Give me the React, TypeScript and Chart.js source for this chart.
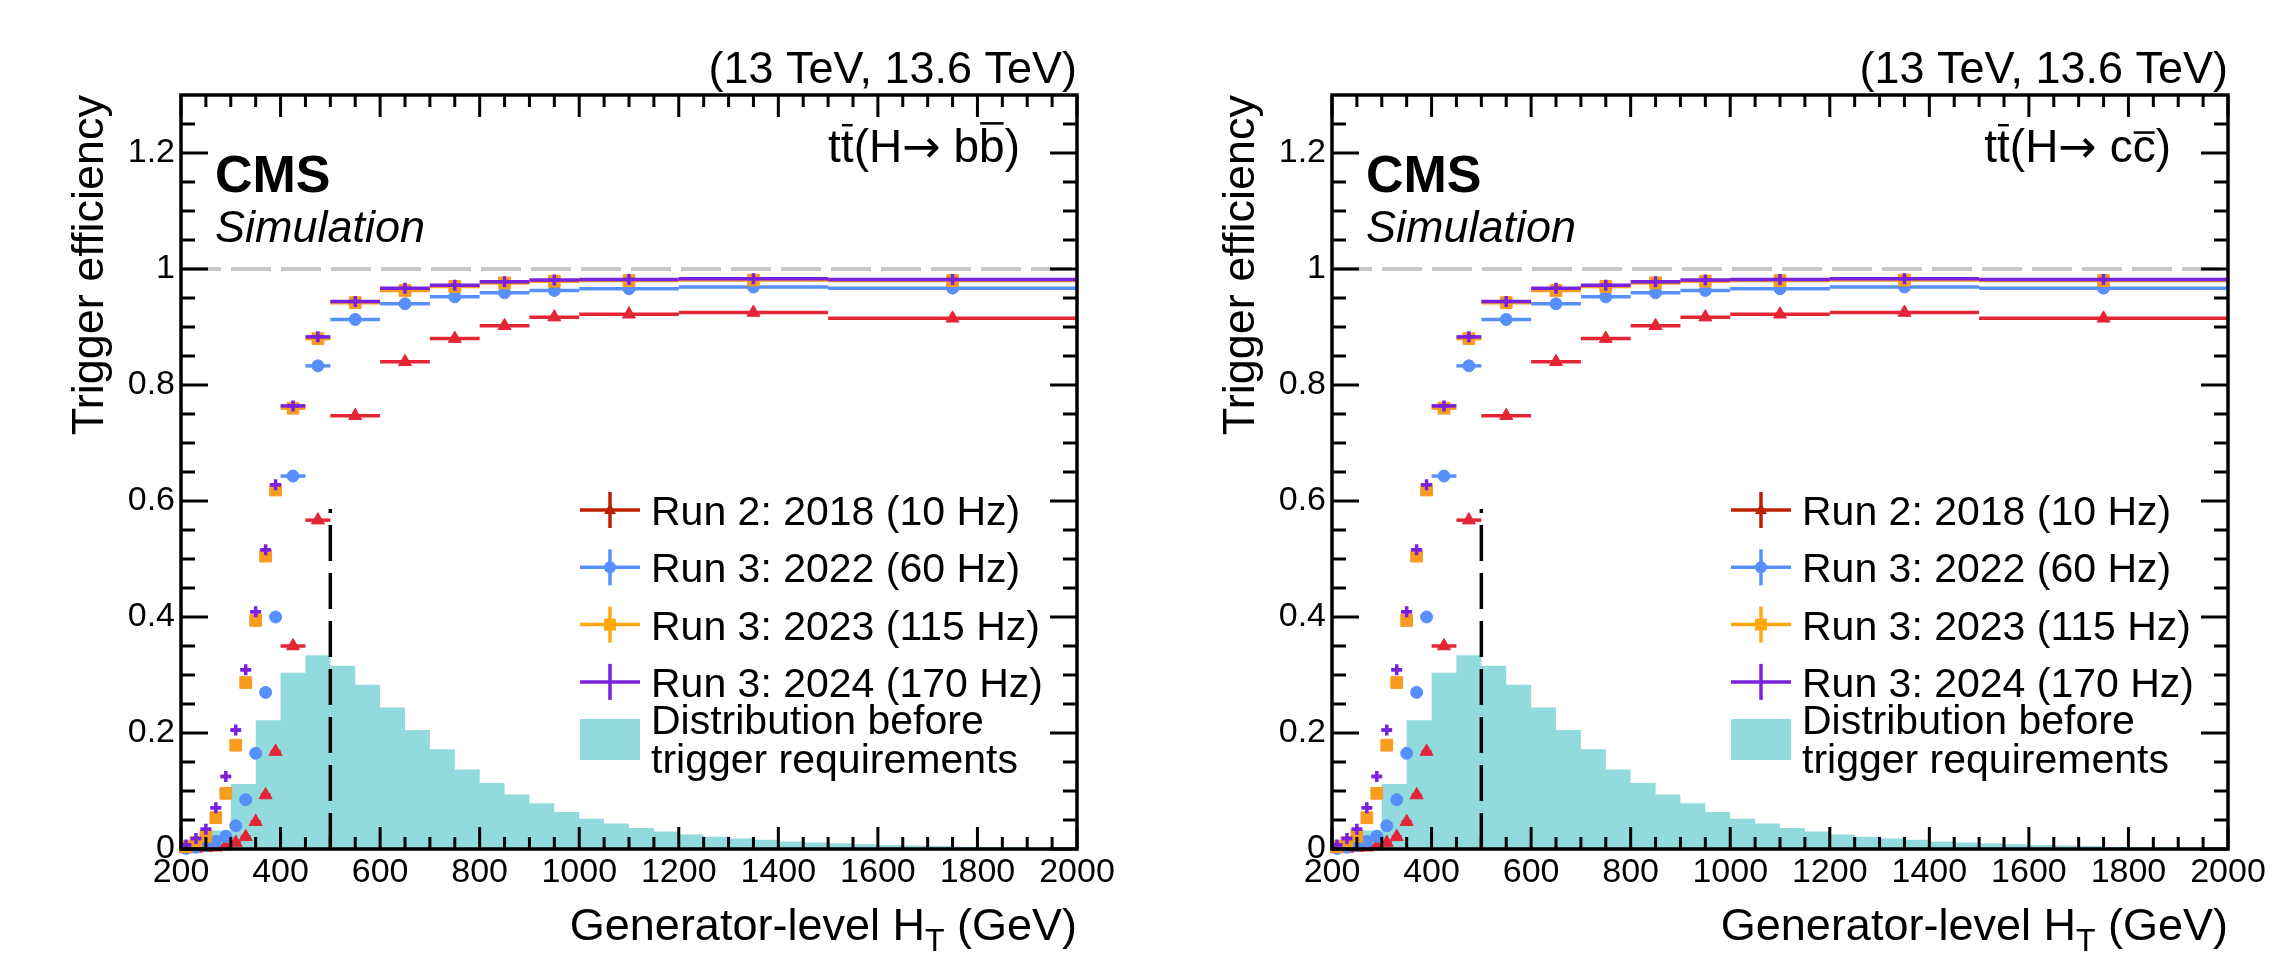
"use client";

import { useEffect, useRef } from "react";
import { Chart, registerables } from "chart.js";
import type { Plugin, ChartArea, Scale, ChartConfiguration } from "chart.js";

Chart.register(...registerables);

const FONT = "'Liberation Sans', Arial, Helvetica, sans-serif";

// trigger efficiency bins (GeV)
const effEdges = [200, 220, 240, 260, 280, 300, 320, 340, 360, 380, 400, 450, 500, 600, 700, 800, 900, 1000, 1200, 1500, 2000];

const run2_2018 = [0.0, 0.001, 0.002, 0.003, 0.005, 0.011, 0.021, 0.047, 0.093, 0.168, 0.35, 0.567, 0.747, 0.84, 0.88, 0.902, 0.917, 0.922, 0.925, 0.915];
const run3_2022 = [0.001, 0.003, 0.006, 0.013, 0.022, 0.04, 0.085, 0.165, 0.27, 0.4, 0.643, 0.833, 0.913, 0.94, 0.952, 0.959, 0.963, 0.966, 0.969, 0.967];
const run3_2023 = [0.004, 0.011, 0.022, 0.054, 0.096, 0.179, 0.287, 0.394, 0.505, 0.619, 0.76, 0.88, 0.942, 0.963, 0.97, 0.976, 0.979, 0.98, 0.981, 0.98];
const run3_2024 = [0.007, 0.018, 0.034, 0.071, 0.125, 0.205, 0.309, 0.409, 0.516, 0.628, 0.764, 0.883, 0.944, 0.967, 0.972, 0.978, 0.981, 0.982, 0.983, 0.982];

const seriesNames = ["Run 2: 2018 (10 Hz)", "Run 3: 2022 (60 Hz)", "Run 3: 2023 (115 Hz)", "Run 3: 2024 (170 Hz)"];

// HT distribution before trigger (arbitrary normalisation)
const histEdges = [200, 250, 300, 350, 400, 450, 500, 550, 600, 650, 700, 750, 800, 850, 900, 950, 1000, 1050, 1100, 1150, 1200, 1250, 1300, 1350, 1400, 1450, 1500, 1550, 1600, 1650, 1700, 1750, 1800, 1850, 1900, 1950, 2000];
const histValues = [0.006, 0.032, 0.112, 0.222, 0.304, 0.334, 0.316, 0.283, 0.244, 0.205, 0.172, 0.137, 0.114, 0.094, 0.079, 0.064, 0.052, 0.044, 0.036, 0.03, 0.025, 0.021, 0.018, 0.016, 0.013, 0.011, 0.01, 0.008, 0.007, 0.006, 0.005, 0.004, 0.0035, 0.003, 0.0025, 0.002];
const histName = ["Distribution before", "trigger requirements"];

// reference lines
const thresholdX = [500, 500];
const thresholdY = [0, 0.586];
const unityX = [200, 2000];
const unityY = [1, 1];

const xTickValues = [200, 400, 600, 800, 1000, 1200, 1400, 1600, 1800, 2000];
const yTickValues = [0, 0.2, 0.4, 0.6, 0.8, 1, 1.2];
const xMinorStep = 50;
const yMinorStep = 0.05;

const panels = ["b", "c"];

const seriesStyle = [
  { color: "#e42536", legend: "#bd1f01", point: "triangle", radius: 7.5, border: 1 },
  { color: "#5790fc", legend: "#5790fc", point: "circle", radius: 6, border: 1 },
  { color: "#f89c20", legend: "#ffa90e", point: "rect", radius: 8.3, border: 1 },
  { color: "#7a21dd", legend: "#7a21dd", point: "cross", radius: 5.5, border: 3.5 },
];
const histColor = "#92dadd";

const CANVAS_W = 1133;
const CANVAS_H = 960;

const line = (ctx: CanvasRenderingContext2D, x1: number, y1: number, x2: number, y2: number) => {
  ctx.beginPath();
  ctx.moveTo(x1, y1);
  ctx.lineTo(x2, y2);
  ctx.stroke();
};

// horizontal error bars (bin widths) under each marker series
const errorBars: Plugin = {
  id: "errorBars",
  beforeDatasetDraw(chart, args) {
    const ds: any = chart.data.datasets[args.index];
    if (!ds.binLow) return;
    const { ctx, scales } = chart;
    ctx.save();
    ctx.strokeStyle = ds.borderColor;
    ctx.lineWidth = 3.5;
    ds.data.forEach((p: { x: number; y: number }, i: number) => {
      const py = scales.y.getPixelForValue(p.y);
      line(ctx, scales.x.getPixelForValue(ds.binLow[i]), py, scales.x.getPixelForValue(ds.binHigh[i]), py);
    });
    ctx.restore();
  },
};

const drawFrame = (ctx: CanvasRenderingContext2D, a: ChartArea, x: Scale, y: Scale) => {
  ctx.strokeStyle = "#000";
  ctx.lineWidth = 3;
  for (let v = 200; v <= 2000; v += xMinorStep) {
    const px = x.getPixelForValue(v);
    const len = xTickValues.includes(v) ? 22 : 12;
    line(ctx, px, a.bottom, px, a.bottom - len);
    line(ctx, px, a.top, px, a.top + len);
  }
  for (let k = 0; k * yMinorStep < 1.3; k++) {
    const py = y.getPixelForValue(k * yMinorStep);
    const len = k % 4 === 0 ? 27 : 14;
    line(ctx, a.left, py, a.left + len, py);
    line(ctx, a.right, py, a.right - len, py);
  }
  ctx.lineWidth = 3.5;
  ctx.strokeRect(a.left, a.top, a.right - a.left, a.bottom - a.top);
};

const drawProcess = (ctx: CanvasRenderingContext2D, right: number, base: number, q: string) => {
  const size = 46;
  const txt = `${size}px ${FONT}`;
  const sym = `${size}px 'DejaVu Sans', ${FONT}`;
  ctx.textAlign = "left";
  const parts = [
    { t: "t", bar: 0, f: txt },
    { t: "t", bar: 0.8, f: txt },
    { t: "(H", bar: 0, f: txt },
    { t: "\u2192", bar: 0, f: sym },
    { t: " ", bar: 0, f: txt },
    { t: q, bar: 0, f: txt },
    { t: q, bar: q === "b" ? 0.84 : 0.64, f: txt },
    { t: ")", bar: 0, f: txt },
  ];
  const widths = parts.map((p) => {
    ctx.font = p.f;
    return ctx.measureText(p.t).width;
  });
  let cx = right - widths.reduce((s, w) => s + w, 0);
  ctx.lineWidth = 2.5;
  parts.forEach((p, i) => {
    ctx.font = p.f;
    ctx.fillText(p.t, cx, base);
    if (p.bar) line(ctx, cx + 1, base - size * p.bar, cx + widths[i] - 1, base - size * p.bar);
    cx += widths[i];
  });
};

const drawXTitle = (ctx: CanvasRenderingContext2D, right: number, base: number) => {
  const a = "Generator-level H";
  const b = " (GeV)";
  ctx.textAlign = "left";
  ctx.font = `45px ${FONT}`;
  const wa = ctx.measureText(a).width;
  const wb = ctx.measureText(b).width;
  ctx.font = `32px ${FONT}`;
  const wt = ctx.measureText("T").width;
  const x0 = right - wa - wt - wb;
  ctx.fillText("T", x0 + wa, base + 11);
  ctx.font = `45px ${FONT}`;
  ctx.fillText(a, x0, base);
  ctx.fillText(b, x0 + wa + wt, base);
};

const drawLegend = (ctx: CanvasRenderingContext2D, a: ChartArea) => {
  const mx = a.left + 429;
  const tx = a.left + 470;
  ctx.font = `41px ${FONT}`;
  ctx.textAlign = "left";
  seriesNames.forEach((name, i) => {
    const st = seriesStyle[i];
    const cy = 510 + i * 57.3;
    ctx.strokeStyle = st.legend;
    ctx.fillStyle = st.legend;
    ctx.lineWidth = 3.5;
    line(ctx, mx - 30, cy, mx + 30, cy);
    line(ctx, mx, cy - 18, mx, cy + 18);
    ctx.beginPath();
    if (st.point === "triangle") {
      ctx.moveTo(mx, cy - 7);
      ctx.lineTo(mx + 6, cy + 4);
      ctx.lineTo(mx - 6, cy + 4);
      ctx.closePath();
      ctx.fill();
    } else if (st.point === "circle") {
      ctx.arc(mx, cy, 6, 0, Math.PI * 2);
      ctx.fill();
    } else if (st.point === "rect") {
      ctx.rect(mx - 6, cy - 6, 12, 12);
      ctx.fill();
    }
    ctx.fillStyle = "#000";
    ctx.fillText(name, tx, cy + 15);
  });
  ctx.fillStyle = histColor;
  ctx.fillRect(a.left + 399, 719, 60, 41);
  ctx.fillStyle = "#000";
  ctx.fillText(histName[0], tx, 734);
  ctx.fillText(histName[1], tx, 773);
};

const makeDecor = (q: string): Plugin => ({
  id: "cmsDecor",
  afterDraw(chart) {
    const { ctx, chartArea: a, scales } = chart;
    ctx.save();
    drawFrame(ctx, a, scales.x, scales.y);
    ctx.fillStyle = "#000";
    ctx.strokeStyle = "#000";
    ctx.textBaseline = "alphabetic";
    ctx.textAlign = "left";
    ctx.font = `bold 52px ${FONT}`;
    ctx.fillText("CMS", a.left + 34, 192);
    ctx.font = `italic 45px ${FONT}`;
    ctx.fillText("Simulation", a.left + 34, 242);
    ctx.textAlign = "right";
    ctx.font = `45px ${FONT}`;
    ctx.fillText("(13 TeV, 13.6 TeV)", a.right, 83);
    drawProcess(ctx, a.right - 57, 162, q);
    drawXTitle(ctx, a.right, a.bottom + 91);
    drawLegend(ctx, a);
    ctx.restore();
  },
});

const binPoints = (vals: number[]) =>
  vals.map((v, i) => ({ x: (effEdges[i] + effEdges[i + 1]) / 2, y: v }));

const buildConfig = (q: string): ChartConfiguration => {
  const series = [run2_2018, run3_2022, run3_2023, run3_2024].map((vals, i) => ({
    type: "scatter" as const,
    label: seriesNames[i],
    data: binPoints(vals),
    binLow: effEdges.slice(0, -1),
    binHigh: effEdges.slice(1),
    pointStyle: seriesStyle[i].point,
    pointRadius: seriesStyle[i].radius,
    pointBackgroundColor: seriesStyle[i].color,
    pointBorderColor: seriesStyle[i].color,
    pointBorderWidth: seriesStyle[i].border,
    borderColor: seriesStyle[i].color,
    backgroundColor: seriesStyle[i].color,
    showLine: false,
    clip: false as const,
    order: 4 - i,
  }));
  return {
    type: "scatter",
    data: {
      datasets: [
        ...series,
        {
          type: "line",
          label: "threshold",
          data: thresholdX.map((x, i) => ({ x, y: thresholdY[i] })),
          borderColor: "#000",
          borderWidth: 3.5,
          borderDash: [36, 12],
          pointRadius: 0,
          showLine: true,
          order: 6,
        },
        {
          type: "line",
          label: "unity",
          data: unityX.map((x, i) => ({ x, y: unityY[i] })),
          borderColor: "#c8c8c8",
          borderWidth: 4,
          borderDash: [40, 10],
          pointRadius: 0,
          showLine: true,
          order: 7,
        },
        {
          type: "line",
          label: histName.join(" "),
          data: histEdges.map((x, i) => ({ x, y: histValues[Math.min(i, histValues.length - 1)] })),
          stepped: "before",
          fill: "origin",
          backgroundColor: histColor,
          borderColor: histColor,
          borderWidth: 0,
          pointRadius: 0,
          showLine: true,
          order: 10,
        },
      ] as any,
    },
    options: {
      animation: false,
      responsive: false,
      devicePixelRatio: 1,
      layout: { padding: { left: 0, right: CANVAS_W - 1077, top: 95, bottom: CANVAS_H - 849 - 60 } },
      plugins: { legend: { display: false }, tooltip: { enabled: false } },
      scales: {
        x: {
          type: "linear",
          min: 200,
          max: 2000,
          grid: { display: false, drawTicks: false },
          border: { display: false },
          afterBuildTicks: (s: any) => {
            s.ticks = xTickValues.map((value) => ({ value }));
          },
          afterFit: (s: any) => {
            s.height = 60;
          },
          ticks: {
            font: { family: FONT, size: 34 },
            color: "#000",
            padding: 3,
            maxRotation: 0,
            autoSkip: false,
            callback: (v: any) => `${v}`,
          },
        },
        y: {
          type: "linear",
          min: 0,
          max: 1.3,
          grid: { display: false, drawTicks: false },
          border: { display: false },
          afterBuildTicks: (s: any) => {
            s.ticks = yTickValues.map((value) => ({ value }));
          },
          afterFit: (s: any) => {
            s.width = 181;
          },
          ticks: {
            font: { family: FONT, size: 34 },
            color: "#000",
            padding: 6,
            autoSkip: false,
            callback: (v: any) => `${Math.round(Number(v) * 10) / 10}`,
          },
          title: {
            display: true,
            text: "Trigger efficiency",
            align: "end",
            color: "#000",
            font: { family: FONT, size: 45 },
            padding: { top: 64, bottom: 0 },
          },
        },
      },
    },
    plugins: [errorBars, makeDecor(q)],
  } as ChartConfiguration;
};

function EfficiencyPanel({ quark }: { quark: string }) {
  const canvasRef = useRef<HTMLCanvasElement>(null);

  useEffect(() => {
    if (!canvasRef.current) return;
    const chart = new Chart(canvasRef.current, buildConfig(quark));
    return () => chart.destroy();
  }, [quark]);

  return (
    <canvas
      ref={canvasRef}
      width={CANVAS_W}
      height={CANVAS_H}
      style={{ display: "block", width: CANVAS_W, height: CANVAS_H }}
    />
  );
}

export default function App() {
  return (
    <div style={{ position: "absolute", left: 0, top: 0, width: 2284, height: 960, background: "#fff" }}>
      {panels.map((q, i) => (
        <div key={q} style={{ position: "absolute", left: i * 1151, top: 0 }}>
          <EfficiencyPanel quark={q} />
        </div>
      ))}
    </div>
  );
}
